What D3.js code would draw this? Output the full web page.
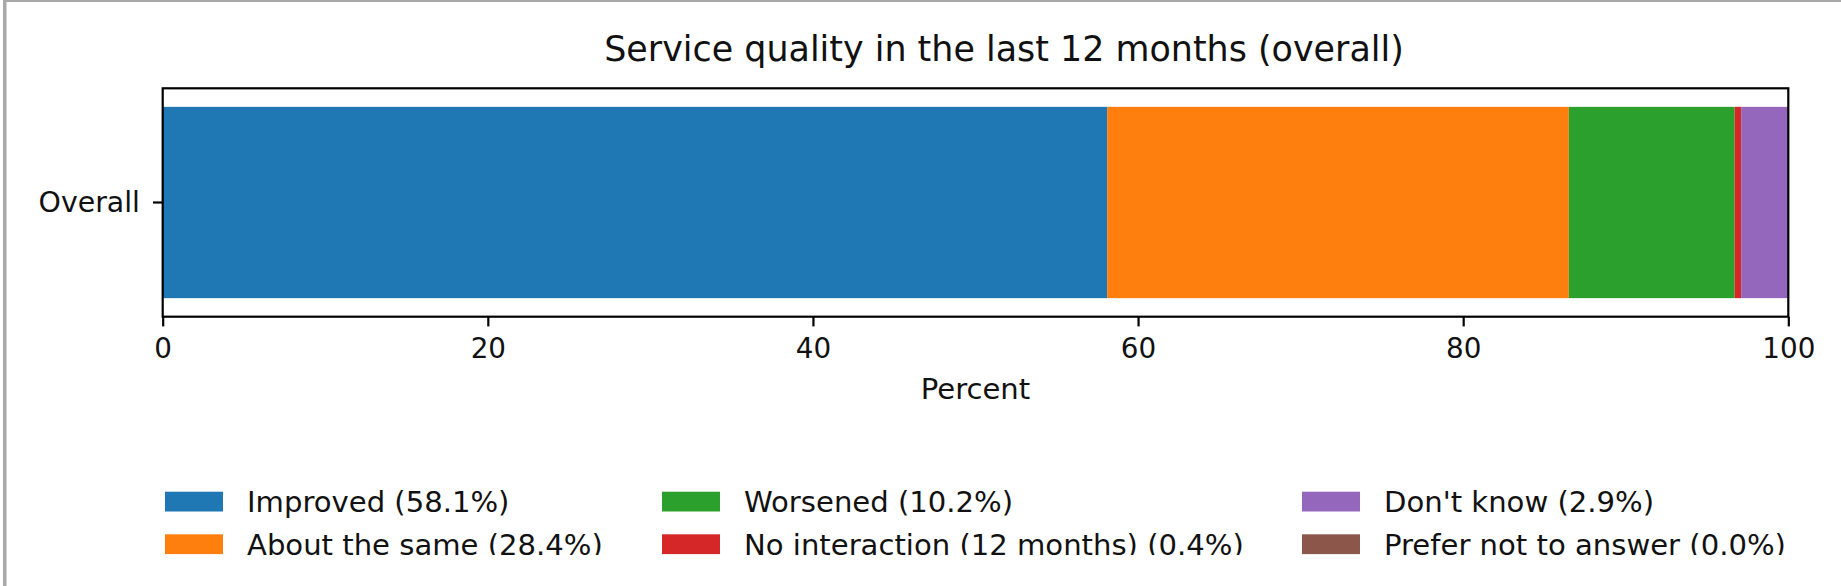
<!DOCTYPE html>
<html>
<head>
<meta charset="utf-8">
<script src="https://cdn.jsdelivr.net/npm/d3@7"></script>
<style>
  html, body { margin: 0; padding: 0; background: #fff; }
  svg { display: block; }
  text { font-family: "DejaVu Sans", sans-serif; fill: #111; }
</style>
</head>
<body>
<svg id="chart" width="1841" height="586"></svg>
<script>
// ---- data ----
const categories = ["Overall"];
const seriesNames = ["Improved", "About the same", "Worsened", "No interaction (12 months)", "Don't know", "Prefer not to answer"];
const seriesValues = [58.1, 28.4, 10.2, 0.4, 2.9, 0.0];
const seriesColors = ["#1f77b4", "#ff7f0e", "#2ca02c", "#d62728", "#9467bd", "#8c564b"];
const xTicks = [0, 20, 40, 60, 80, 100];
const titleText = "Service quality in the last 12 months (overall)";
const xLabel = "Percent";

// ---- layout ----
const W = 1841, H = 586;
const axL = 162.7, axR = 1788.3, axT = 88.3, axB = 316.7;
const fs = 27.8;
const fsLegend = 29.1;
const svg = d3.select("#chart");

// page border (screenshot frame)
svg.append("rect").attr("x", 3).attr("y", 0).attr("width", 3.5).attr("height", H).attr("fill", "#a8a8a8");
svg.append("rect").attr("x", 3).attr("y", 0).attr("width", W - 3).attr("height", 2).attr("fill", "#a8a8a8");

// clip for the figure image (bottom cut)
svg.append("defs").append("clipPath").attr("id", "figclip")
  .append("rect").attr("x", 7).attr("y", 2).attr("width", W - 7).attr("height", 553);
const fig = svg.append("g").attr("clip-path", "url(#figclip)");

const x = d3.scaleLinear().domain([0, 100]).range([axL, axR]);
const y = d3.scaleBand().domain(categories).range([axT, axB]).paddingInner(0).paddingOuter(0.097);

// stacked bars
const stackRows = categories.map(c => {
  const row = { cat: c };
  seriesNames.forEach((s, i) => row[s] = seriesValues[i]);
  return row;
});
const stacked = d3.stack().keys(seriesNames)(stackRows);
fig.append("g").selectAll("g").data(stacked).join("g")
  .attr("fill", (d, i) => seriesColors[i])
  .selectAll("rect").data(d => d).join("rect")
  .attr("x", d => x(d[0]))
  .attr("width", d => x(d[1]) - x(d[0]))
  .attr("y", d => y(d.data.cat))
  .attr("height", y.bandwidth());

// axes frame
fig.append("rect").attr("x", axL).attr("y", axT).attr("width", axR - axL).attr("height", axB - axT)
  .attr("fill", "none").attr("stroke", "#000").attr("stroke-width", 2.2);

// x axis
const xa = fig.append("g").attr("transform", `translate(0,${axB})`)
  .call(d3.axisBottom(x).tickValues(xTicks).tickFormat(d3.format("d")).tickSize(9.7).tickSizeOuter(0).tickPadding(11.9));
xa.select(".domain").remove();
xa.selectAll("line").attr("stroke", "#000").attr("stroke-width", 2.2);
xa.selectAll("text").attr("font-size", fs).attr("font-family", "DejaVu Sans").attr("fill", "#111");

// y axis
const ya = fig.append("g").attr("transform", `translate(${axL},0)`)
  .call(d3.axisLeft(y).tickSize(9.7).tickSizeOuter(0).tickPadding(13));
ya.select(".domain").remove();
ya.selectAll("line").attr("stroke", "#000").attr("stroke-width", 2.2);
ya.selectAll("text").attr("font-size", 28.4).attr("font-family", "DejaVu Sans").attr("fill", "#111").attr("dy", "0.34em");

// title
fig.append("text").attr("x", 1004).attr("y", 60.5).attr("text-anchor", "middle")
  .attr("font-size", 34.9).text(titleText);

// x label
fig.append("text").attr("x", (axL + axR) / 2).attr("y", 399).attr("text-anchor", "middle")
  .attr("font-size", fsLegend).text(xLabel);

// legend (3 columns, column-major)
const colX = [165, 662, 1302];
const rowY = [491.7, 534.3];
const legendItems = seriesNames.map((s, i) => ({
  label: `${s} (${seriesValues[i].toFixed(1)}%)`,
  color: seriesColors[i],
  col: Math.floor(i / 2),
  row: i % 2
}));
const lg = fig.append("g").selectAll("g").data(legendItems).join("g")
  .attr("transform", d => `translate(${colX[d.col]},${rowY[d.row]})`);
lg.append("rect").attr("width", 58).attr("height", 19.8).attr("fill", d => d.color);
lg.append("text").attr("x", 82).attr("y", 20.5).attr("font-size", fsLegend).text(d => d.label);
</script>
</body>
</html>
